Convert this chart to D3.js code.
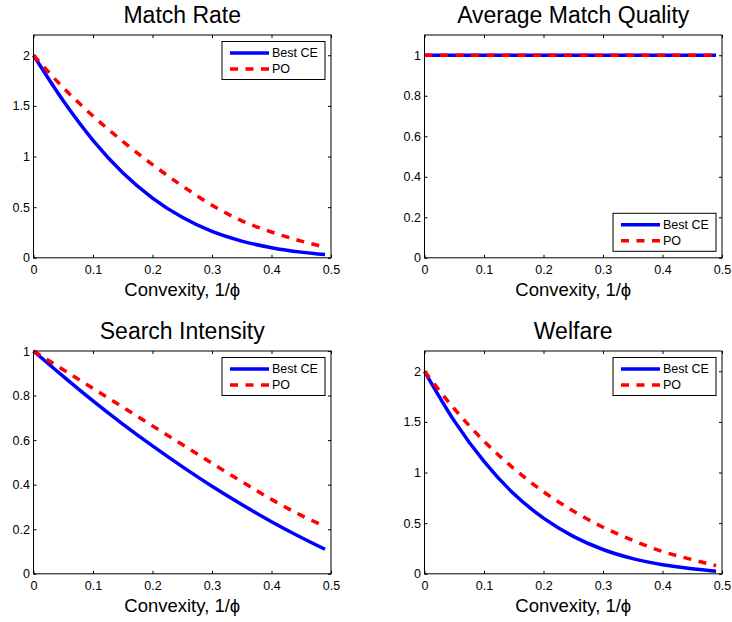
<!DOCTYPE html>
<html>
<head>
<meta charset="utf-8">
<script src="https://cdn.jsdelivr.net/npm/d3@7"></script>
<style>
  body { margin: 0; background: #fff; }
  text { font-family: "Liberation Sans", Arial, Helvetica, sans-serif; fill: #000; }
</style>
</head>
<body>
<div class="chart"></div>
<script>
// values, x = convexity 1/phi
var xVals = [0, 0.05, 0.1, 0.15, 0.2, 0.25, 0.3, 0.35, 0.4, 0.45, 0.49];

var matchRateCE = [2.0, 1.55, 1.16, 0.84, 0.59, 0.40, 0.26, 0.165, 0.10, 0.056, 0.032];
var matchRatePO = [2.0, 1.68, 1.40, 1.15, 0.92, 0.71, 0.52, 0.365, 0.255, 0.165, 0.105];

var qualityCE = [1, 1, 1, 1, 1, 1, 1, 1, 1, 1, 1];
var qualityPO = [1, 1, 1, 1, 1, 1, 1, 1, 1, 1, 1];

var searchCE = [1.0, 0.886, 0.776, 0.672, 0.574, 0.481, 0.393, 0.311, 0.234, 0.163, 0.11];
var searchPO = [1.0, 0.916, 0.832, 0.748, 0.664, 0.580, 0.496, 0.414, 0.334, 0.262, 0.213];

var welfareCE = [2.0, 1.51, 1.11, 0.79, 0.55, 0.37, 0.24, 0.15, 0.09, 0.05, 0.025];
var welfarePO = [2.0, 1.63, 1.31, 1.04, 0.81, 0.62, 0.46, 0.33, 0.22, 0.14, 0.08];

var xTicks = [0, 0.1, 0.2, 0.3, 0.4, 0.5];
var yTicksTwo = [0, 0.5, 1, 1.5, 2];
var yTicksOne = [0, 0.2, 0.4, 0.6, 0.8, 1];

var seriesNames = ["Best CE", "PO"];
var titles = ["Match Rate", "Average Match Quality", "Search Intensity", "Welfare"];

var svgWidth = 732, svgHeight = 622;

// panel boxes (left, top) in page pixels
var panels = [
  {title: titles[0], ce: matchRateCE, po: matchRatePO, ymax: 2.2, yticks: yTicksTwo, left: 33.5, top: 35, legend: "ne"},
  {title: titles[1], ce: qualityCE, po: qualityPO, ymax: 1.1, yticks: yTicksOne, left: 424.5, top: 35, legend: "se"},
  {title: titles[2], ce: searchCE, po: searchPO, ymax: 1, yticks: yTicksOne, left: 33.5, top: 351, legend: "ne"},
  {title: titles[3], ce: welfareCE, po: welfarePO, ymax: 2.2, yticks: yTicksTwo, left: 424.5, top: 351, legend: "ne"}
];
var pw = 297.5, ph = 222.8;

var svg = d3.select(".chart")
  .append("svg")
    .attr("width", svgWidth)
    .attr("height", svgHeight);

svg.append("rect")
  .attr("width", svgWidth)
  .attr("height", svgHeight)
  .attr("fill", "#fff");

var blue = "#0000ff", red = "#ff0000";
var dash = "8,7.5";

panels.forEach(function(p) {
  var g = svg.append("g")
    .attr("transform", "translate(" + p.left + "," + p.top + ")");

  var x = d3.scaleLinear().domain([0, 0.5]).range([0, pw]);
  var y = d3.scaleLinear().domain([0, p.ymax]).range([ph, 0]);

  var line = d3.line()
    .x(function(d) { return x(d[0]); })
    .y(function(d) { return y(d[1]); })
    .curve(d3.curveMonotoneX);

  // axes, ticks point inward like matlab
  var fmt = function(d) { return String(d); };

  g.append("g")
    .attr("transform", "translate(0," + ph + ")")
    .call(d3.axisBottom(x).tickValues(xTicks).tickFormat(fmt).tickSizeInner(-3).tickSizeOuter(0).tickPadding(7))
    .call(styleAxis);

  g.append("g")
    .call(d3.axisTop(x).tickValues(xTicks).tickFormat("").tickSizeInner(-3).tickSizeOuter(0))
    .call(styleAxis);

  g.append("g")
    .call(d3.axisLeft(y).tickValues(p.yticks).tickFormat(fmt).tickSizeInner(-3).tickSizeOuter(0).tickPadding(3.5))
    .call(styleAxis);

  g.append("g")
    .attr("transform", "translate(" + pw + ",0)")
    .call(d3.axisRight(y).tickValues(p.yticks).tickFormat("").tickSizeInner(-3).tickSizeOuter(0))
    .call(styleAxis);

  // lines
  g.append("path")
    .datum(d3.zip(xVals, p.ce))
    .attr("d", line)
    .attr("fill", "none")
    .attr("stroke", blue)
    .attr("stroke-width", 3.5);

  g.append("path")
    .datum(d3.zip(xVals, p.po))
    .attr("d", line)
    .attr("fill", "none")
    .attr("stroke", red)
    .attr("stroke-width", 3.5)
    .attr("stroke-dasharray", dash);

  // frame
  g.append("rect")
    .attr("width", pw)
    .attr("height", ph)
    .attr("fill", "none")
    .attr("stroke", "#000")
    .attr("stroke-width", 1);

  // title
  g.append("text")
    .attr("x", pw / 2)
    .attr("y", -12.5)
    .attr("text-anchor", "middle")
    .style("font-size", "23px")
    .text(p.title);

  // x label
  g.append("text")
    .attr("x", pw / 2)
    .attr("y", ph + 38)
    .attr("text-anchor", "middle")
    .style("font-size", "18.5px")
    .text("Convexity, 1/ϕ");

  // legend
  var lw = 103, lh = 38;
  var lx = pw - 6 - lw;
  var ly = p.legend === "ne" ? 6.5 : ph - 6.5 - lh;
  var lg = g.append("g").attr("transform", "translate(" + lx + "," + ly + ")");
  lg.append("rect")
    .attr("width", lw)
    .attr("height", lh)
    .attr("fill", "#fff")
    .attr("stroke", "#000")
    .attr("stroke-width", 1);

  seriesNames.forEach(function(name, i) {
    var cy = 11.5 + i * 16;
    lg.append("line")
      .attr("x1", 8).attr("x2", 47)
      .attr("y1", cy).attr("y2", cy)
      .attr("stroke", i === 0 ? blue : red)
      .attr("stroke-width", 3.5)
      .attr("stroke-dasharray", i === 0 ? null : dash);
    lg.append("text")
      .attr("x", 50)
      .attr("y", cy)
      .attr("dy", "0.35em")
      .style("font-size", "12.5px")
      .text(name);
  });
});

function styleAxis(sel) {
  sel.select(".domain").remove();
  sel.selectAll(".tick line").attr("stroke", "#000");
  sel.selectAll(".tick text")
    .attr("fill", "#000")
    .style("font-size", "12.5px")
    .style("font-family", '"Liberation Sans", Arial, Helvetica, sans-serif');
}
</script>
</body>
</html>
